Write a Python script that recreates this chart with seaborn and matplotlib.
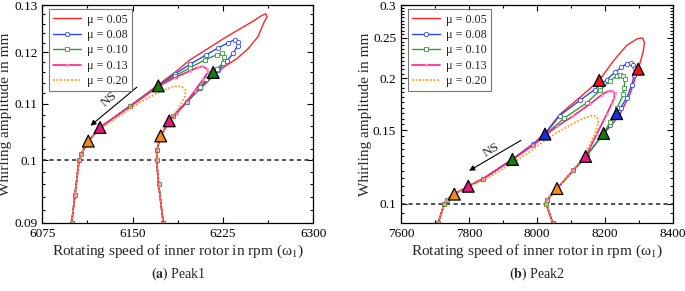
import matplotlib
matplotlib.use("Agg")
import matplotlib.pyplot as plt
import seaborn as sns
import numpy as np
import pandas as pd
from matplotlib.ticker import NullFormatter

# ---------------- data: Peak1 ----------------
mu_labels = ["μ = 0.05", "μ = 0.08", "μ = 0.10", "μ = 0.13", "μ = 0.20"]

p1_x_005 = [6099.4, 6102.1, 6105.5, 6107.1, 6113.2, 6122.9, 6147.8, 6171.3, 6185.0, 6197.6, 6211.4,
            6226.6, 6240.7, 6250.7, 6256.5, 6260.5, 6261.5, 6259.0, 6254.0, 6245.7, 6236.3, 6225.2,
            6216.9, 6205.9, 6194.8, 6183.7, 6180.4, 6173.3, 6170.2, 6169.9, 6171.6, 6175.4]
p1_y_005 = [0.0900, 0.0943, 0.1000, 0.1010, 0.1033, 0.1057, 0.1096, 0.1136, 0.1160, 0.1185, 0.1206,
            0.1230, 0.1251, 0.1266, 0.1276, 0.1281, 0.1274, 0.1262, 0.1232, 0.1207, 0.1187, 0.1170,
            0.1153, 0.1128, 0.1103, 0.1077, 0.1069, 0.1042, 0.1018, 0.1000, 0.0960, 0.0900]

p1_x_008 = [6099.4, 6102.1, 6105.5, 6107.1, 6113.2, 6122.9, 6147.8, 6171.3, 6185.0, 6197.6, 6211.0,
            6221.0, 6229.4, 6234.9, 6237.4, 6237.2, 6233.5, 6228.0, 6221.1, 6215.6, 6205.9, 6194.8,
            6183.7, 6180.4, 6173.3, 6170.2, 6169.9, 6171.6, 6175.4]
p1_y_008 = [0.0900, 0.0943, 0.1000, 0.1010, 0.1033, 0.1057, 0.1096, 0.1134, 0.1157, 0.1176, 0.1195,
            0.1209, 0.1220, 0.1226, 0.1222, 0.1214, 0.1198, 0.1182, 0.1165, 0.1154, 0.1130, 0.1104,
            0.1078, 0.1069, 0.1042, 0.1018, 0.1000, 0.0960, 0.0900]

p1_x_010 = [6099.4, 6102.1, 6105.5, 6107.1, 6113.2, 6122.9, 6147.8, 6171.3, 6185.0, 6197.6, 6210.0,
            6219.7, 6223.9, 6225.8, 6224.7, 6220.0, 6216.9, 6211.0, 6205.9, 6194.8, 6183.7, 6180.4,
            6173.3, 6170.2, 6169.9, 6171.6, 6175.4]
p1_y_010 = [0.0900, 0.0943, 0.1000, 0.1010, 0.1033, 0.1057, 0.1096, 0.1134, 0.1153, 0.1169, 0.1185,
            0.1195, 0.1198, 0.1191, 0.1178, 0.1167, 0.1160, 0.1148, 0.1131, 0.1104, 0.1078, 0.1069,
            0.1042, 0.1018, 0.1000, 0.0960, 0.0900]

p1_x_013 = [6099.4, 6102.1, 6105.5, 6107.1, 6113.2, 6122.9, 6147.8, 6171.3, 6185.0, 6197.6, 6204.0,
            6208.0, 6212.0, 6212.5, 6208.6, 6201.7, 6194.8, 6186.5, 6180.4, 6173.3, 6170.2, 6169.9,
            6171.6, 6175.4]
p1_y_013 = [0.0900, 0.0943, 0.1000, 0.1010, 0.1033, 0.1057, 0.1095, 0.1133, 0.1150, 0.1163, 0.1170,
            0.1172, 0.1167, 0.1160, 0.1147, 0.1125, 0.1104, 0.1082, 0.1069, 0.1042, 0.1018, 0.1000,
            0.0960, 0.0900]

p1_x_020 = [6099.4, 6102.1, 6105.5, 6107.1, 6113.2, 6122.9, 6133.9, 6156.1, 6172.7, 6183.7, 6190.5,
            6194.0, 6193.5, 6191.0, 6187.5, 6183.7, 6178.0, 6173.3, 6170.2, 6169.9, 6171.6, 6175.4]
p1_y_020 = [0.0900, 0.0943, 0.1000, 0.1010, 0.1033, 0.1055, 0.1071, 0.1103, 0.1123, 0.1133, 0.1133,
            0.1126, 0.1115, 0.1103, 0.1090, 0.1078, 0.1058, 0.1042, 0.1018, 0.1000, 0.0960, 0.0900]

# NS bifurcation points (triangles), Peak1
p1_tri_x = [6171.3, 6216.9, 6122.9, 6180.4, 6113.2, 6173.3]
p1_tri_y = [0.1134, 0.1160, 0.1057, 0.1069, 0.1033, 0.1042]
p1_tri_mu = [2, 2, 3, 3, 4, 4]

# ---------------- data: Peak2 ----------------
p2_x_005 = [7709.7, 7727.3, 7736.2, 7756.8, 7797.9, 7842.0, 7927.9, 7989.1, 8023.5, 8067.6, 8126.4,
            8183.2, 8224.4, 8263.8, 8295.0, 8310.8, 8316.0, 8312.6, 8297.9, 8273.5, 8244.1, 8219.7,
            8196.1, 8146.1, 8106.7, 8058.8, 8028.5, 8027.0, 8046.1]
p2_y_005 = [0.0900, 0.1000, 0.1023, 0.1054, 0.1101, 0.1148, 0.1280, 0.1392, 0.1475, 0.1640, 0.1800,
            0.1977, 0.2200, 0.2400, 0.2490, 0.2500, 0.2440, 0.2320, 0.2104, 0.1833, 0.1640, 0.1545,
            0.1474, 0.1305, 0.1202, 0.1087, 0.1019, 0.1000, 0.0900]

p2_x_008 = [7709.7, 7727.3, 7736.2, 7756.8, 7797.9, 7842.0, 7927.9, 7989.1, 8023.5, 8067.0, 8126.0,
            8170.0, 8205.0, 8230.0, 8248.0, 8263.8, 8275.0, 8283.0, 8288.0, 8286.0, 8279.0, 8263.8,
            8246.0, 8234.4, 8214.7, 8196.1, 8146.1, 8106.7, 8058.8, 8028.5, 8027.0, 8046.1]
p2_y_008 = [0.0900, 0.1000, 0.1023, 0.1054, 0.1101, 0.1148, 0.1279, 0.1390, 0.1469, 0.1628, 0.1770,
            0.1880, 0.1985, 0.2070, 0.2125, 0.2170, 0.2175, 0.2155, 0.2115, 0.2040, 0.1930, 0.1796,
            0.1700, 0.1645, 0.1545, 0.1474, 0.1305, 0.1202, 0.1087, 0.1019, 0.1000, 0.0900]

p2_x_010 = [7709.7, 7727.3, 7736.2, 7756.8, 7797.9, 7842.0, 7927.9, 7989.1, 8023.5, 8080.0, 8146.1,
            8185.3, 8214.7, 8234.4, 8245.0, 8252.0, 8258.0, 8257.0, 8253.8, 8236.0, 8215.0, 8196.1,
            8146.1, 8106.7, 8058.8, 8028.5, 8027.0, 8046.1]
p2_y_010 = [0.0900, 0.1000, 0.1023, 0.1054, 0.1101, 0.1148, 0.1277, 0.1386, 0.1463, 0.1605, 0.1745,
            0.1870, 0.1975, 0.2025, 0.2040, 0.2030, 0.1990, 0.1900, 0.1830, 0.1700, 0.1570, 0.1474,
            0.1305, 0.1202, 0.1087, 0.1019, 0.1000, 0.0900]

p2_x_013 = [7709.7, 7727.3, 7736.2, 7756.8, 7797.9, 7842.0, 7927.9, 7989.1, 8023.5, 8060.0, 8106.7,
            8155.8, 8190.0, 8208.0, 8222.0, 8228.0, 8227.0, 8219.7, 8205.0, 8175.6, 8143.2, 8106.7,
            8058.8, 8028.5, 8027.0, 8046.1]
p2_y_013 = [0.0900, 0.1000, 0.1023, 0.1054, 0.1101, 0.1148, 0.1275, 0.1383, 0.1458, 0.1535, 0.1625,
            0.1735, 0.1825, 0.1862, 0.1865, 0.1842, 0.1790, 0.1740, 0.1640, 0.1469, 0.1298, 0.1202,
            0.1087, 0.1019, 0.1000, 0.0900]

p2_x_020 = [7709.7, 7727.3, 7736.2, 7756.8, 7797.9, 7860.0, 7928.5, 7980.0, 8021.4, 8070.0, 8110.0,
            8140.0, 8165.6, 8177.0, 8180.3, 8170.0, 8150.0, 8126.4, 8100.0, 8058.8, 8028.5, 8027.0,
            8046.1]
p2_y_020 = [0.0900, 0.1000, 0.1023, 0.1054, 0.1098, 0.1160, 0.1250, 0.1335, 0.1415, 0.1500, 0.1565,
            0.1608, 0.1630, 0.1610, 0.1565, 0.1465, 0.1360, 0.1265, 0.1185, 0.1087, 0.1019, 0.1000,
            0.0900]

p2_tri_x = [8183.2, 8297.9, 8023.5, 8234.4, 7927.9, 8196.1, 7797.9, 8143.2, 7756.8, 8058.8]
p2_tri_y = [0.1977, 0.2104, 0.1469, 0.1645, 0.1277, 0.1474, 0.1101, 0.1298, 0.1054, 0.1087]
p2_tri_mu = [0, 0, 1, 1, 2, 2, 3, 3, 4, 4]

line_colors = ["#ff2424", "#2b45ff", "#2ea02e", "#ff1f8e", "#ff9a1a"]
tri_colors = ["#e8141c", "#1530e0", "#157a15", "#e8177d", "#f08a1c"]

sns.set_theme(style="ticks")
plt.rcParams["font.family"] = ["Liberation Serif", "DejaVu Serif"]
plt.rcParams["mathtext.fontset"] = "stix"

fig = plt.figure(figsize=(6.85, 2.91), dpi=100)
ax1 = fig.add_axes([42.3 / 685, 1 - 222.7 / 291, 271 / 685, 217.7 / 291])
ax2 = fig.add_axes([401 / 685, 1 - 222.7 / 291, 272 / 685, 217.7 / 291])

styles = [
    dict(lw=1.0, ls="-"),
    dict(lw=1.0, ls="-", marker="o", ms=3.2, mfc="white", mec=line_colors[1], mew=0.6),
    dict(lw=1.0, ls="-", marker="s", ms=2.8, mfc="white", mec=line_colors[2], mew=0.6),
    dict(lw=1.2, ls="-", marker="s", ms=1.8, mfc="#ff8ec6", mec="#ff8ec6", mew=0.4),
    dict(lw=1.3, ls=(0, (1, 1))),
]


def draw_panel(ax, curves, tri_x, tri_y, tri_mu, ylabel_x):
    for i, (xs, ys) in enumerate(curves):
        sns.lineplot(x=xs, y=ys, sort=False, estimator=None, color=line_colors[i],
                     label=mu_labels[i], ax=ax, **styles[i])
    tri = pd.DataFrame({"x": tri_x, "y": tri_y, "mu": tri_mu})
    sns.scatterplot(data=tri, x="x", y="y", hue="mu", palette={k: tri_colors[k] for k in set(tri_mu)},
                    marker="^", s=72, edgecolor="black", linewidth=0.9, legend=False, ax=ax, zorder=5)
    ax.axhline(0.1, color="#333333", lw=1.2, ls=(0, (2.5, 2)), zorder=1)
    ax.set_yscale("log")
    ax.yaxis.set_minor_formatter(NullFormatter())
    ax.tick_params(which="both", direction="in", top=True, right=True, labelsize=9.5,
                   colors="black", width=0.8)
    ax.tick_params(which="major", length=4)
    ax.tick_params(which="minor", length=2.2)
    for s in ax.spines.values():
        s.set_linewidth(0.9)
        s.set_color("black")
    ax.set_xlabel("Rotating speed of inner rotor in rpm (ω$_1$)", fontsize=11)
    ax.set_ylabel("Whirling amplitude in mm", fontsize=11)
    ax.xaxis.set_label_coords(0.5, -0.093)
    ax.yaxis.set_label_coords(ylabel_x, 0.5)
    leg = ax.legend(loc="upper left", bbox_to_anchor=(0.025, 0.98), fontsize=8.7, frameon=True,
                    fancybox=False, edgecolor="#555555", handlelength=2.3, labelspacing=0.28,
                    borderpad=0.35, handletextpad=0.5, borderaxespad=0.0)
    leg.get_frame().set_linewidth(0.8)


draw_panel(ax1, [(p1_x_005, p1_y_005), (p1_x_008, p1_y_008), (p1_x_010, p1_y_010),
                 (p1_x_013, p1_y_013), (p1_x_020, p1_y_020)], p1_tri_x, p1_tri_y, p1_tri_mu, -0.112)
draw_panel(ax2, [(p2_x_005, p2_y_005), (p2_x_008, p2_y_008), (p2_x_010, p2_y_010),
                 (p2_x_013, p2_y_013), (p2_x_020, p2_y_020)], p2_tri_x, p2_tri_y, p2_tri_mu, -0.105)

ax1.set_xlim(6075, 6300)
ax1.set_xticks([6075, 6150, 6225, 6300])
ax1.set_xticks([6112.5, 6187.5, 6262.5], minor=True)
ax1.set_ylim(0.09, 0.13)
ax1.set_yticks([0.09, 0.1, 0.11, 0.12, 0.13], ["0.09", "0.1", "0.11", "0.12", "0.13"])
ax1.set_yticks([v / 1000 for v in range(92, 130, 2) if v % 10 != 0], minor=True)

ax2.set_xlim(7600, 8400)
ax2.set_xticks([7600, 7800, 8000, 8200, 8400])
ax2.set_xticks([7700, 7900, 8100, 8300], minor=True)
ax2.set_ylim(0.09, 0.3)
ax2.set_yticks([0.1, 0.15, 0.2, 0.25, 0.3], ["0.1", "0.15", "0.2", "0.25", "0.3"])
ax2.set_yticks([v / 1000 for v in range(95, 300, 5) if v % 50 != 0], minor=True)

# NS arrows
ax1.annotate("", xy=(6113.2, 0.1057), xytext=(6155.3, 0.1135),
             arrowprops=dict(arrowstyle="-|>", color="black", lw=0.8, mutation_scale=8))
ax1.text(6130.6, 0.1108, "NS", rotation=40, fontsize=9.5, ha="center", va="center")
ax2.annotate("", xy=(7793.2, 0.1190), xytext=(7959.7, 0.1430),
             arrowprops=dict(arrowstyle="-|>", color="black", lw=0.8, mutation_scale=8))
ax2.text(7866.7, 0.1345, "NS", rotation=31, fontsize=9.5, ha="center", va="center")

fig.text(178 / 685, 1 - 274 / 291, r"$\mathbf{(a)}$ Peak1", ha="center", va="center", fontsize=10)
fig.text(537 / 685, 1 - 274 / 291, r"$\mathbf{(b)}$ Peak2", ha="center", va="center", fontsize=10)

fig.savefig("out.png", dpi=100)
